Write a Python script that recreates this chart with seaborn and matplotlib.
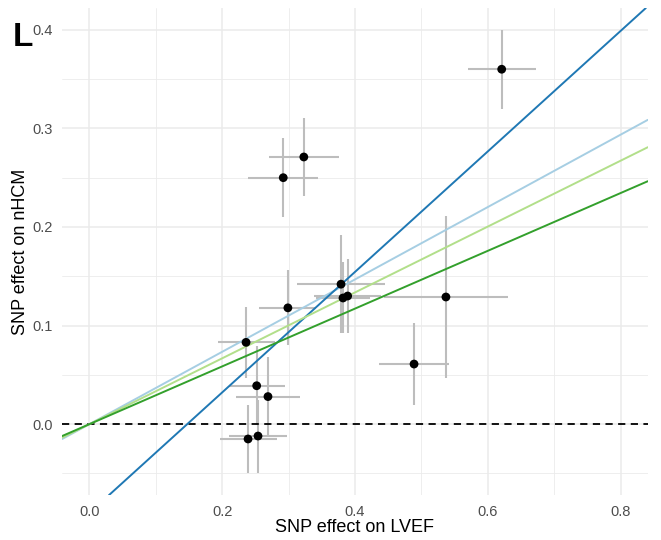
import numpy as np
import pandas as pd
import matplotlib
matplotlib.use("Agg")
import matplotlib.pyplot as plt
from matplotlib.ticker import MultipleLocator
import seaborn as sns

# SNP effects
beta_exp = [0.621, 0.323, 0.292, 0.379, 0.382, 0.389, 0.537, 0.299, 0.236, 0.252, 0.269, 0.239, 0.254, 0.489]
se_exp = [0.051, 0.053, 0.053, 0.066, 0.040, 0.050, 0.093, 0.043, 0.043, 0.042, 0.048, 0.043, 0.044, 0.053]
beta_out = [0.360, 0.271, 0.250, 0.142, 0.128, 0.130, 0.129, 0.118, 0.083, 0.039, 0.028, -0.015, -0.012, 0.061]
se_out = [0.040, 0.040, 0.040, 0.050, 0.036, 0.038, 0.082, 0.038, 0.036, 0.040, 0.040, 0.034, 0.037, 0.042]

# MR method fits
methods = ["Inverse variance weighted", "MR Egger", "Weighted median", "Weighted mode"]
slopes = [0.367, 0.611, 0.334, 0.293]
intercepts = [0.0, -0.090, 0.0, 0.0]
colors = ["#a6cee3", "#1f78b4", "#b2df8a", "#33a02c"]

df = pd.DataFrame({"exp": beta_exp, "out": beta_out, "se_exp": se_exp, "se_out": se_out})

sns.set_theme(style="whitegrid")
plt.rcParams["font.family"] = ["Liberation Sans", "DejaVu Sans"]

fig = plt.figure(figsize=(6.61, 5.4), dpi=100)
ax = fig.add_axes([0.094, 0.083, 0.886, 0.902])

ax.errorbar(df["exp"], df["out"], xerr=df["se_exp"], yerr=df["se_out"],
            fmt="none", ecolor="#bdbdbd", elinewidth=1.5, capsize=0, zorder=2)
ax.axhline(0, color="black", linestyle=(0, (4, 3)), linewidth=1.3, zorder=3)
sns.scatterplot(data=df, x="exp", y="out", color="black", s=40, edgecolor="none", zorder=5, ax=ax)

for m, b, a, c in zip(methods, slopes, intercepts, colors):
    ax.axline((0, a), slope=b, color=c, linewidth=1.4, zorder=4, label=m)

ax.set_xlim(-0.041, 0.841)
ax.set_ylim(-0.072, 0.422)
ax.xaxis.set_major_locator(MultipleLocator(0.2))
ax.xaxis.set_minor_locator(MultipleLocator(0.1))
ax.yaxis.set_major_locator(MultipleLocator(0.1))
ax.yaxis.set_minor_locator(MultipleLocator(0.05))
ax.grid(which="major", color="#ebebeb", linewidth=1.1)
ax.grid(which="minor", color="#ebebeb", linewidth=0.6)
for s in ax.spines.values():
    s.set_visible(False)
ax.tick_params(which="both", length=0, labelsize=10.5, labelcolor="#4d4d4d")
ax.tick_params(axis="x", pad=7)
ax.tick_params(axis="y", pad=7)

ax.set_xlabel("SNP effect on LVEF", fontsize=13, color="black", labelpad=0)
ax.set_ylabel("SNP effect on nHCM", fontsize=13, color="black", labelpad=2)

fig.text(0.020, 0.915, "L", fontsize=24, color="black", fontweight="bold")

fig.savefig("out.png", dpi=100)
